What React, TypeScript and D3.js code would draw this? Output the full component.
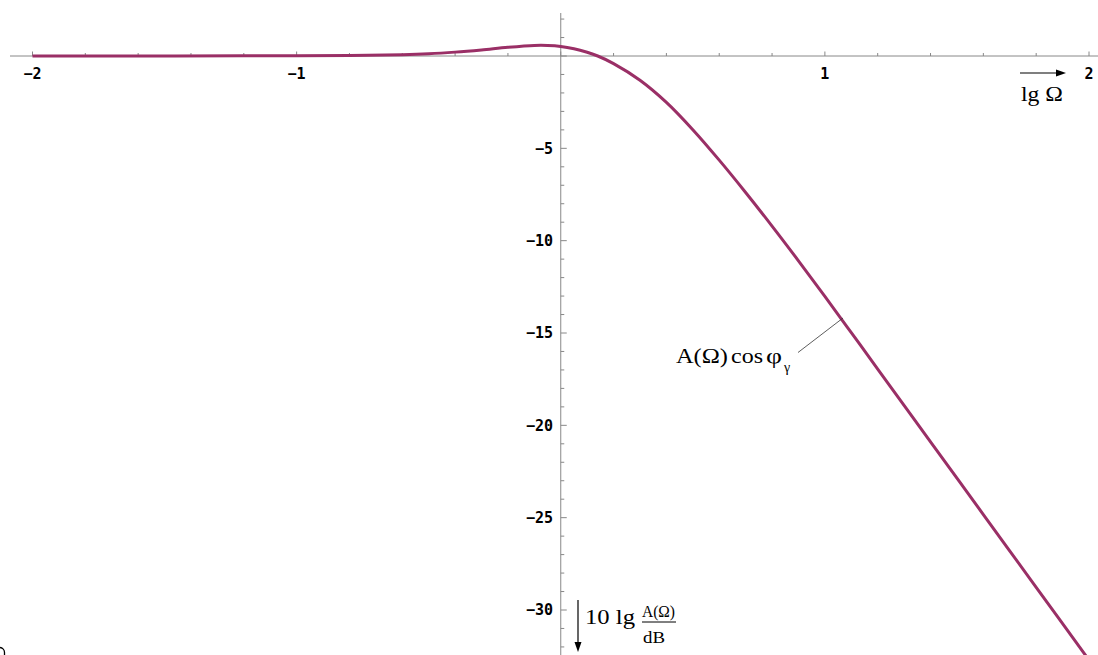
import React from "react";
import * as d3 from "d3";

const lgOmega = [-2, -1.6, -1.2, -1.0, -0.8, -0.6, -0.5, -0.4, -0.3, -0.2, -0.1, -0.05, 0, 0.05, 0.1, 0.14, 0.2, 0.3, 0.4, 0.5, 0.6, 0.7, 0.8, 0.9, 1.0, 1.1, 1.2, 1.4, 1.6, 1.8, 2.0];
const levelDb = [0, 0.003, 0.008, 0.013, 0.03, 0.07, 0.12, 0.21, 0.33, 0.47, 0.57, 0.57, 0.52, 0.395, 0.2, 0, -0.41, -1.31, -2.51, -3.99, -5.64, -7.39, -9.21, -11.09, -13.02, -14.98, -16.95, -20.89, -24.83, -28.77, -32.71];

const xMajorTicks = [-2, -1, 1, 2];
const xTickLabels = ["\u22122", "\u22121", "1", "2"];
const yMajorTicks = [-5, -10, -15, -20, -25, -30];
const yTickLabels = ["\u22125", "\u221210", "\u221215", "\u221220", "\u221225", "\u221230"];

const W = 1098;
const H = 655;

export default function App() {
  const x = d3.scaleLinear().domain([-2, 2]).range([32.5, 1089]);
  const y = d3.scaleLinear().domain([0, -30]).range([56, 610]);
  const axisColor = "#888";
  const curveColor = "#9a2f66";

  const xMinor = d3.range(-2, 2.0001, 0.2).map((v) => Math.round(v * 10) / 10);
  const yMinor = d3.range(2, -33, -1);

  const line = d3
    .line<number>()
    .x((_, i) => x(lgOmega[i]))
    .y((d) => y(d))
    .curve(d3.curveCatmullRom.alpha(0.5));

  const x0 = x(0);
  const y0 = y(0);
  const mono = "'DejaVu Sans Mono', monospace";
  const serif = "'Liberation Serif', 'Times New Roman', serif";

  return (
    <svg
      width={W}
      height={H}
      style={{ position: "absolute", left: 0, top: 0, background: "#fff" }}
    >
      {/* x axis */}
      <line x1={10} x2={1098} y1={y0} y2={y0} stroke={axisColor} strokeWidth={1} />
      {xMinor.map((v) => {
        const major = Math.abs(v - Math.round(v)) < 1e-6;
        return (
          <line
            key={"xt" + v}
            x1={x(v)}
            x2={x(v)}
            y1={y0}
            y2={y0 - (major ? 4.5 : 3)}
            stroke={axisColor}
            strokeWidth={1}
          />
        );
      })}
      {xMajorTicks.map((v, i) => (
        <text
          key={"xl" + v}
          x={x(v)}
          y={79}
          textAnchor="middle"
          fontFamily={mono}
          fontWeight="bold"
          fontSize={15}
          fill="#000"
        >
          {xTickLabels[i]}
        </text>
      ))}

      {/* y axis */}
      <line x1={x0} x2={x0} y1={13} y2={H} stroke={axisColor} strokeWidth={1} />
      {yMinor.map((v) => {
        const major = v % 5 === 0;
        return (
          <line
            key={"yt" + v}
            x1={x0}
            x2={x0 + (major ? 6 : 3.5)}
            y1={y(v)}
            y2={y(v)}
            stroke={axisColor}
            strokeWidth={1}
          />
        );
      })}
      {yMajorTicks.map((v, i) => (
        <text
          key={"yl" + v}
          x={553}
          y={y(v)}
          dy="0.36em"
          textAnchor="end"
          fontFamily={mono}
          fontWeight="bold"
          fontSize={15}
          fill="#000"
        >
          {yTickLabels[i]}
        </text>
      ))}

      {/* curve */}
      <path d={line(levelDb) || ""} fill="none" stroke={curveColor} strokeWidth={3} />

      {/* x axis label */}
      <line x1={1020} x2={1058} y1={73} y2={73} stroke="#000" strokeWidth={1.2} />
      <path d="M1066,73 L1056,69.5 L1056,76.5 Z" fill="#000" />
      <text x={1021} y={101} fontFamily={serif} fontSize={22} textLength={42} lengthAdjust="spacingAndGlyphs" fill="#000">
        lg Ω
      </text>

      {/* y axis label */}
      <line x1={578} x2={578} y1={600} y2={644} stroke="#000" strokeWidth={1.2} />
      <path d="M578,652 L574.5,642 L581.5,642 Z" fill="#000" />
      <text x={585} y={624} fontFamily={serif} fontSize={20} textLength={50} lengthAdjust="spacingAndGlyphs" fill="#000">
        10 lg
      </text>
      <text x={642} y={617} fontFamily={serif} fontSize={17} textLength={33} lengthAdjust="spacingAndGlyphs" fill="#000">
        A(Ω)
      </text>
      <line x1={642} x2={676} y1={622} y2={622} stroke="#000" strokeWidth={1} />
      <text x={643} y={643} fontFamily={serif} fontSize={17} textLength={22} lengthAdjust="spacingAndGlyphs" fill="#000">
        dB
      </text>

      {/* annotation */}
      <line x1={798} y1={352.5} x2={843} y2={318} stroke="#333" strokeWidth={0.8} />
      <text x={676} y={363} fontFamily={serif} fontSize={21} textLength={52} lengthAdjust="spacingAndGlyphs" fill="#000">
        A(Ω)
      </text>
      <text x={731} y={363} fontFamily={serif} fontSize={21} textLength={32} lengthAdjust="spacingAndGlyphs" fill="#000">
        cos
      </text>
      <text x={766} y={363} fontFamily={serif} fontSize={21} textLength={16} lengthAdjust="spacingAndGlyphs" fill="#000">
        φ
      </text>
      <text x={784} y={372} fontFamily={serif} fontSize={14} fill="#000">
        γ
      </text>

      {/* cropped mark at bottom-left edge */}
      <path d="M0,647.5 A5,5 0 0 1 4.5,652.5 L4.5,655" fill="none" stroke="#000" strokeWidth={1.3} />
    </svg>
  );
}
